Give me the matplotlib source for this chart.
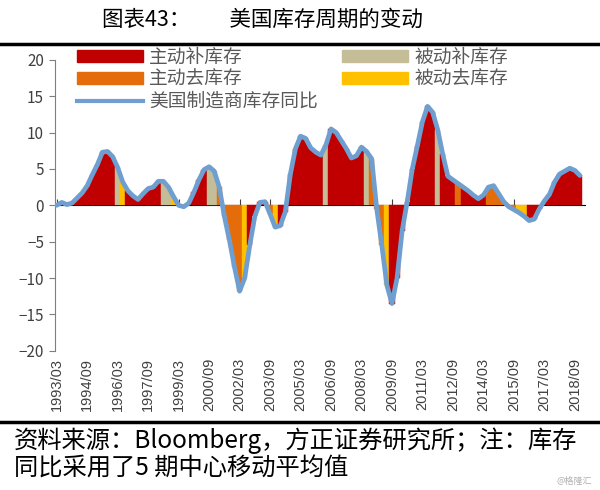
import matplotlib
matplotlib.use("Agg")
import matplotlib.pyplot as plt
from matplotlib.lines import Line2D
from matplotlib.patches import Patch

plt.rcParams['font.family'] = ['Noto Sans CJK SC', 'DejaVu Sans']

# quarterly, 1993Q1 .. 2018Q4
inventory_yoy = [
    0.0, 0.4, 0.1, 0.3, 1.0, 1.7, 2.7, 4.2, 5.6, 7.3,
    7.4, 6.7, 5.2, 3.2, 2.0, 1.3, 0.8, 1.6, 2.3, 2.5,
    3.3, 3.3, 2.5, 1.2, 0.0, -0.2, 0.3, 1.8, 3.5, 4.9,
    5.3, 4.7, 2.5, -1.5, -4.8, -8.5, -11.8, -10.0, -5.5, -1.5,
    0.4, 0.5, -1.2, -3.0, -2.8, -0.9, 4.3, 7.8, 9.5, 9.2,
    7.9, 7.3, 6.9, 8.3, 10.5, 10.0, 8.9, 7.8, 6.5, 6.8,
    8.0, 7.4, 6.4, -0.5, -5.5, -11.0, -13.5, -10.0, -3.5, 0.5,
    5.0, 8.2, 11.5, 13.6, 12.8, 10.4, 7.0, 4.0, 3.5, 3.0,
    2.5, 2.0, 1.4, 0.9, 1.4, 2.5, 2.7, 1.6, 0.5, -0.2,
    -0.6, -1.0, -1.5, -2.1, -1.9, -0.5, 0.6, 1.5, 3.2, 4.3,
    4.7, 5.1, 4.8, 4.1,
]

# A 主动补库存, P 被动补库存, D 主动去库存, Q 被动去库存
phase = (
    "AAAAAAAAAAAAPQAAAAAAAPPQQDAAAAPPDDDDDQAAAADQAAAAAAAAAP"
    "AAAAAAAPDDDQAAAAAAAAAPAAADAAAAADDDDDDQQAAAAAAAAA"
)

tick_labels = [
    "1993/03", "1994/09", "1996/03", "1997/09", "1999/03", "2000/09",
    "2002/03", "2003/09", "2005/03", "2006/09", "2008/03", "2009/09",
    "2011/03", "2012/09", "2014/03", "2015/09", "2017/03", "2018/09",
]

phase_names = {"A": "主动补库存", "P": "被动补库存", "D": "主动去库存", "Q": "被动去库存"}
phase_colors = {"A": "#C00000", "P": "#C4BD97", "D": "#E46C0A", "Q": "#FFC000"}
line_color = "#6F9FD0"

fig = plt.figure(figsize=(6, 4.9), dpi=100)
ax = fig.add_axes([0.092, 0.284, 0.883, 0.594])

x = list(range(len(inventory_yoy)))
colors = [phase_colors[p] for p in phase[:len(x)]]
ax.bar(x, inventory_yoy, width=1.0, color=colors, edgecolor=colors,
       linewidth=0.3, zorder=2)
ax.plot(x, inventory_yoy, color=line_color, lw=3.4, solid_joinstyle="round",
        solid_capstyle="round", zorder=4)

ax.set_xlim(-0.3, 104)
ax.set_ylim(-20, 20)
ax.set_yticks(range(-20, 21, 5))
ax.tick_params(axis="y", direction="out", length=4, color="#7f7f7f",
               labelsize=11, labelcolor="#404040", pad=4)
ax.set_xticks(range(0, 6 * len(tick_labels), 6))
ax.set_xticklabels(tick_labels, rotation=90, fontsize=10.5, color="#404040",
                   family=["Liberation Sans"])
ax.tick_params(axis="x", length=0, pad=5)
for s in ("top", "right", "bottom"):
    ax.spines[s].set_visible(False)
ax.spines["left"].set_color("#7f7f7f")

# zero axis with tick marks
zx = ax.secondary_xaxis(0.5)
zx.set_xticks(range(0, 6 * len(tick_labels), 6))
zx.set_xticklabels([])
zx.tick_params(direction="out", length=4, color="#404040")
zx.spines["bottom"].set_color("#404040")
zx.spines["bottom"].set_linewidth(0.8)

handles = [
    Patch(color=phase_colors["A"], label=phase_names["A"]),
    Patch(color=phase_colors["D"], label=phase_names["D"]),
    Line2D([], [], color=line_color, lw=3, label="美国制造商库存同比"),
    Patch(color=phase_colors["P"], label=phase_names["P"]),
    Patch(color=phase_colors["Q"], label=phase_names["Q"]),
]
fig.legend(handles=handles, ncol=2, loc="upper left",
           bbox_to_anchor=(77 / 600, 1 - 47 / 490), frameon=False,
           fontsize=13.5, labelcolor="#595959", handlelength=3.5,
           handleheight=0.6, handletextpad=0.35, labelspacing=0.05,
           columnspacing=1.3, borderpad=0, borderaxespad=0)

fig.text(262 / 600, 1 - 20 / 490, "图表43：        美国库存周期的变动", ha="center",
         va="center", fontsize=15.5, color="black")
fig.add_artist(Line2D([0, 1], [1 - 44 / 490, 1 - 44 / 490], color="black", lw=2.5))
fig.add_artist(Line2D([0, 1], [1 - 422 / 490, 1 - 422 / 490], color="black", lw=2.5))

fig.text(14 / 600, 1 - 441 / 490, "资料来源：Bloomberg，方正证券研究所；注：库存",
         ha="left", va="center", fontsize=17.5, style="italic", color="black")
fig.text(14 / 600, 1 - 469 / 490, "同比采用了5 期中心移动平均值",
         ha="left", va="center", fontsize=17.5, style="italic", color="black")
fig.text(592 / 600, 1 - 481 / 490, "@格隆汇", ha="right", va="center",
         fontsize=6.5, color="#b0b0b0")

fig.savefig("out.png", dpi=100)
plt.close(fig)
